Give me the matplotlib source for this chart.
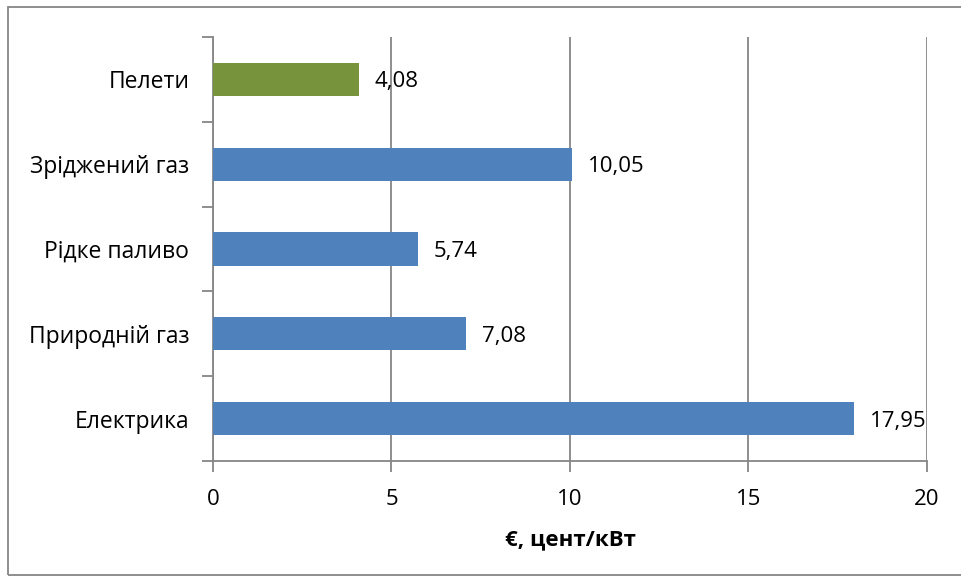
import matplotlib.pyplot as plt
from matplotlib.patches import Rectangle

plt.rcParams['font.family'] = ['Open Sans', 'DejaVu Sans']

categories = ['Електрика', 'Природній газ', 'Рідке паливо', 'Зріджений газ', 'Пелети']
values = [17.95, 7.08, 5.74, 10.05, 4.08]
colors = ['#4F81BD', '#4F81BD', '#4F81BD', '#4F81BD', '#77933C']
xticks = [0, 5, 10, 15, 20]

fig = plt.figure(figsize=(9.61, 5.8), dpi=100)
ax = fig.add_axes([0.2216, 0.2052, 0.743, 0.731])

ypos = list(range(len(categories)))
ax.barh(ypos, values, height=0.39, color=colors, zorder=3)

for y, v in zip(ypos, values):
    ax.text(v + 0.45, y - 0.03, f'{v:.2f}'.replace('.', ','), va='center', ha='left',
            fontsize=16, zorder=4)

ax.set_xlim(0, 20)
ax.set_ylim(-0.5, len(categories) - 0.5)
ax.set_xticks(xticks)
ax.set_yticks(ypos)
ax.set_yticklabels(categories)
ax.tick_params(axis='y', length=0, pad=17, labelsize=16.5)
ax.tick_params(axis='x', length=8, width=1.3, color='#868686', labelsize=16, pad=12)

# category separator ticks on the left of the value axis
ax.set_yticks([i - 0.5 for i in range(len(categories) + 1)], minor=True)
ax.tick_params(axis='y', which='minor', length=8, width=1.3, color='#868686')

ax.grid(axis='x', color='#868686', linewidth=1.3, zorder=0)
for s in ['top', 'right']:
    ax.spines[s].set_visible(False)
for s in ['left', 'bottom']:
    ax.spines[s].set_color('#868686')
    ax.spines[s].set_linewidth(1.3)

ax.set_xlabel('€, цент/кВт', fontsize=16, fontweight='bold', labelpad=14)

# chart frame, open at the right edge
fig.patches.append(Rectangle((8 / 961, 5 / 580), 970 / 961, 568 / 580,
                             transform=fig.transFigure, fill=False,
                             edgecolor='#868686', linewidth=1.3))

fig.savefig('out.png', dpi=100)
